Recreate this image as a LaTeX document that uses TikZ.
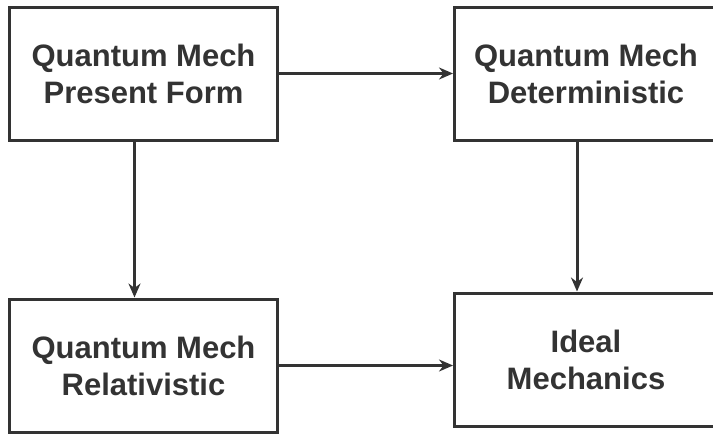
\documentclass[tikz,border=0pt]{standalone}
\usepackage{fontspec}
\setmainfont{Liberation Sans}
\usetikzlibrary{positioning, arrows.meta}
\definecolor{colorLine}{RGB}{51, 51, 51}
\tikzstyle{box} = [rectangle, minimum width=268pt, minimum height=133pt, inner sep=0pt, align=center, text=colorLine, draw=colorLine, line width=3pt, font=\fontsize{31}{37}\selectfont\bfseries]
\tikzstyle{arrow} = [line width=3pt, color=colorLine, -{Stealth[length=14pt, width=12pt]}]

\begin{document}
\begin{tikzpicture}[x=1pt, y=1pt]

		\useasboundingbox (0,0) rectangle (713,-434);

		% boxes
		\node (qmPresent)[box] at (143.5,-73.5) {Quantum Mech \\ Present Form};
		\node (qmDeterm)[box, minimum width=263pt, right=174pt of qmPresent] {Quantum Mech \\ Deterministic};
		\node (qmRelat)[box, below=156pt of qmPresent] {Quantum Mech \\ Relativistic};
		\node (idealMech)[box, minimum width=263pt, below=150pt of qmDeterm] {Ideal \\ Mechanics};

		% lines and arrows
		\draw[arrow](qmPresent) -- (qmDeterm);
		\draw[arrow]([xshift=-9pt]qmPresent.south) -- ([xshift=-9pt]qmPresent.south |- qmRelat.north);
		\draw[arrow]([xshift=-9pt]qmDeterm.south) -- ([xshift=-9pt]qmDeterm.south |- idealMech.north);
		\draw[arrow](qmRelat) -- (qmRelat -| idealMech.west);

	\end{tikzpicture}
\end{document}
